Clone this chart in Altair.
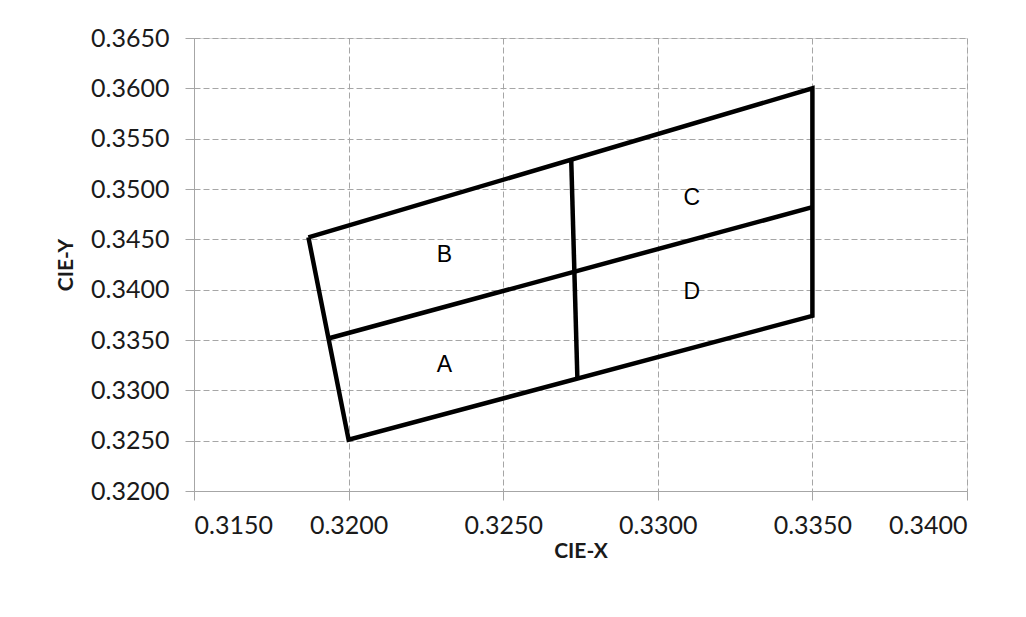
import altair as alt
import pandas as pd

# Line segments (segment id, order, x, y)
seg_ids = ["outer", "outer", "outer", "outer", "outer", "mid", "mid", "vert", "vert"]
seg_order = [0, 1, 2, 3, 4, 0, 1, 0, 1]
seg_x = [0.3187, 0.3350, 0.3350, 0.3200, 0.3187, 0.3194, 0.3350, 0.3272, 0.3274]
seg_y = [0.3452, 0.3600, 0.3374, 0.3251, 0.3452, 0.3352, 0.3482, 0.3529, 0.3311]

# Region labels
lab_text = ["A", "B", "C", "D"]
lab_x = [0.3231, 0.3231, 0.3311, 0.3311]
lab_y = [0.3325, 0.3434, 0.3491, 0.3398]

x_ticks = [0.3150, 0.3200, 0.3250, 0.3300, 0.3350, 0.3400]
y_ticks = [0.3200, 0.3250, 0.3300, 0.3350, 0.3400, 0.3450, 0.3500, 0.3550, 0.3600, 0.3650]

lines = pd.DataFrame({"seg": seg_ids, "ord": seg_order, "x": seg_x, "y": seg_y})
labels = pd.DataFrame({"t": lab_text, "x": lab_x, "y": lab_y})

xs = alt.Scale(domain=[0.3150, 0.3400], nice=False, zero=False)
ys = alt.Scale(domain=[0.3200, 0.3650], nice=False, zero=False)

xax = alt.Axis(values=x_ticks, format=".4f", title="CIE-X", grid=True,
               gridDash=[6, 3], gridColor="#a6a6a6", domainColor="#a6a6a6",
               tickColor="#a6a6a6", tickSize=9, labelPadding=13,
               labelFont="Lato", labelFontSize=25, labelColor="#1a1a1a",
               titleFont="Lato", titleFontSize=21, titleFontWeight="bold",
               titleColor="#1a1a1a", titlePadding=2)
yax = alt.Axis(values=y_ticks, format=".4f", title="CIE-Y", grid=True,
               gridDash=[6, 3], gridColor="#a6a6a6", domainColor="#a6a6a6",
               tickColor="#a6a6a6", tickSize=9, labelPadding=16,
               labelFont="Lato", labelFontSize=25, labelColor="#1a1a1a",
               titleFont="Lato", titleFontSize=21, titleFontWeight="bold",
               titleColor="#1a1a1a", titlePadding=14)

line_layer = alt.Chart(lines).mark_line(color="black", strokeWidth=4.5,
                                        strokeJoin="miter").encode(
    x=alt.X("x:Q", scale=xs, axis=xax),
    y=alt.Y("y:Q", scale=ys, axis=yax),
    detail="seg:N",
    order="ord:Q",
)

text_layer = alt.Chart(labels).mark_text(font="Liberation Sans", fontSize=23,
                                         color="black", align="center",
                                         baseline="middle").encode(
    x=alt.X("x:Q", scale=xs),
    y=alt.Y("y:Q", scale=ys),
    text="t:N",
)

chart = alt.layer(line_layer, text_layer).properties(
    width=773, height=453,
    autosize=alt.AutoSizeParams(type="none"),
    padding={"left": 186, "top": 30, "right": 51, "bottom": 118},
).configure_view(stroke=None).configure(background="white")

chart.save("out.html", embed_options={"renderer": "svg", "actions": False})
